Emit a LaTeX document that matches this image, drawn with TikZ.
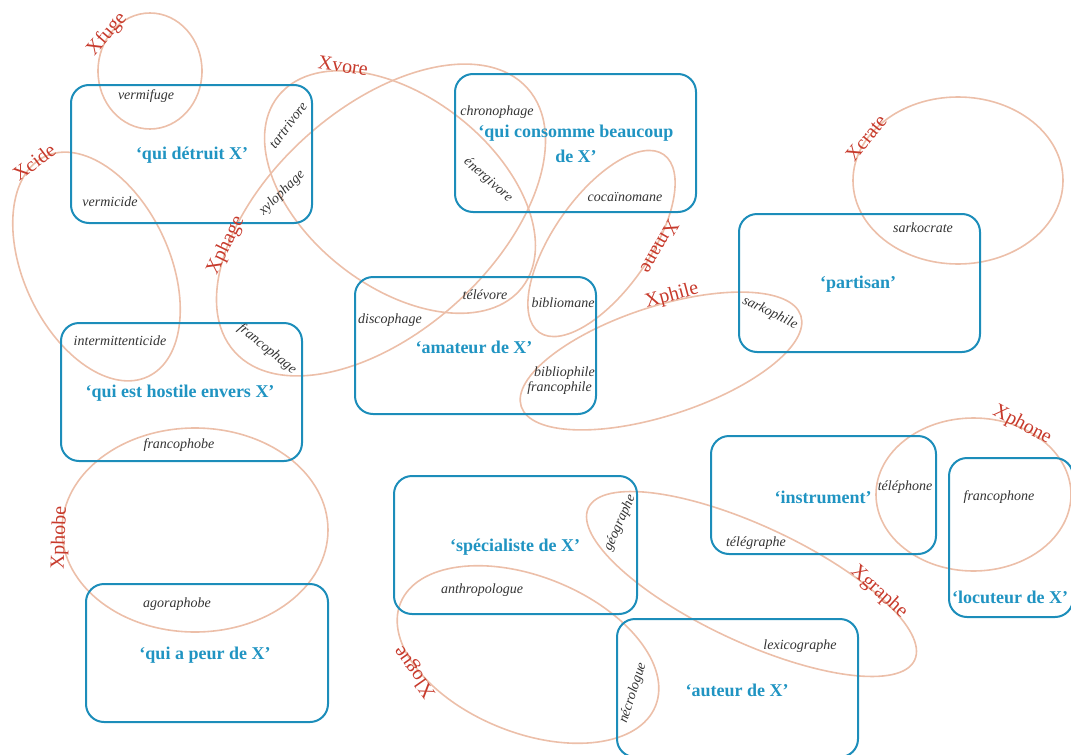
\documentclass[tikz,border=0pt]{standalone}
\usepackage{fontspec}
\setmainfont{Liberation Serif}
\definecolor{boxblue}{HTML}{1C8DBA}
\definecolor{textblue}{HTML}{2094C2}
\definecolor{ellcol}{HTML}{ECBFA9}
\definecolor{labred}{HTML}{C73A2C}
\definecolor{wordgray}{HTML}{333333}
\begin{document}
\begin{tikzpicture}[x=1pt,y=-1pt,
  box/.style={draw=boxblue, line width=2pt, rounded corners=18pt, inner sep=0pt, rectangle},
  ellline/.style={draw=ellcol, line width=1.6pt},
  sense/.style={text=textblue, font=\fontsize{18}{25}\selectfont\bfseries, align=center, inner sep=0pt},
  word/.style={text=wordgray, font=\fontsize{14}{15}\selectfont\itshape, inner sep=0pt},
  suffix/.style={text=labred, font=\fontsize{20}{22}\selectfont, inner sep=0pt}]
\useasboundingbox (0,0) rectangle (1071,755);

% ellipses (suffix sets)
\draw[ellline] (150,71) ellipse [x radius=52pt, y radius=58pt];
\draw[ellline, rotate around={-65:(96.5,266.5)}] (96.5,266.5) ellipse [x radius=121.5pt, y radius=73pt];
\draw[ellline, rotate around={-38:(400,192)}] (400,192) ellipse [x radius=155pt, y radius=95pt];
\draw[ellline, rotate around={42:(381,220)}] (381,220) ellipse [x radius=197pt, y radius=112pt];
\draw[ellline, rotate around={55:(601.5,243.5)}] (601.5,243.5) ellipse [x radius=108.5pt, y radius=48pt];
\draw[ellline, rotate around={18:(661,361)}] (661,361) ellipse [x radius=147pt, y radius=54.5pt];
\draw[ellline] (958,180.5) ellipse [x radius=105pt, y radius=83.5pt];
\draw[ellline] (195,530) ellipse [x radius=133pt, y radius=102pt];
\draw[ellline] (973.5,494.5) ellipse [x radius=97.5pt, y radius=76.5pt];
\draw[ellline, rotate around={-25:(751.5,584)}] (751.5,584) ellipse [x radius=180pt, y radius=58pt];
\draw[ellline, rotate around={-22:(528,654.5)}] (528,654.5) ellipse [x radius=137.5pt, y radius=78pt];

% boxes (senses)
\node[box, minimum width=241pt, minimum height=138pt] (detruit) at (191.5,154) {};
\node[box, minimum width=241pt, minimum height=138pt] (consomme) at (575.5,143) {};
\node[box, minimum width=241pt, minimum height=138pt] (partisan) at (859.5,283) {};
\node[box, minimum width=241pt, minimum height=137pt] (amateur) at (475.5,345.5) {};
\node[box, minimum width=241pt, minimum height=138pt] (hostile) at (181.5,392) {};
\node[box, minimum width=225pt, minimum height=118pt] (instrument) at (823.5,495) {};
\node[box, minimum width=124pt, minimum height=159pt] (locuteur) at (1011,537.5) {};
\node[box, minimum width=243pt, minimum height=138pt] (specialiste) at (515.5,545) {};
\node[box, minimum width=241pt, minimum height=138pt] (auteur) at (737.5,688) {};
\node[box, minimum width=242pt, minimum height=138pt] (peur) at (207,653) {};

% sense texts
\node[sense] (tdetruit) at (192,155) {‘qui détruit X’};
\node[sense] (tconsomme) at (576,144) {‘qui consomme beaucoup\\de X’};
\node[sense] (tpartisan) at (858,284) {‘partisan’};
\node[sense] (tamateur) at (474,347) {‘amateur de X’};
\node[sense] (thostile) at (180,393) {‘qui est hostile envers X’};
\node[sense] (tpeur) at (205,655) {‘qui a peur de X’};
\node[sense] (tspecialiste) at (515,547) {‘spécialiste de X’};
\node[sense] (tinstrument) at (823,497) {‘instrument’};
\node[sense] (tlocuteur) at (1010,597) {‘locuteur de X’};
\node[sense] (tauteur) at (737,690) {‘auteur de X’};

% suffix labels
\node[suffix, rotate=49] (lfuge) at (107,34) {Xfuge};
\node[suffix, rotate=37] (lcide) at (34,162) {Xcide};
\node[suffix, rotate=-8] (lvore) at (343,66) {Xvore};
\node[suffix, rotate=64] (lphage) at (226,245) {Xphage};
\node[suffix, rotate=-120] (lmane) at (660,247) {Xmane};
\node[suffix, rotate=15] (lphile) at (672,296) {Xphile};
\node[suffix, rotate=51] (lcrate) at (866,138) {Xcrate};
\node[suffix, rotate=88] (lphobe) at (60,538) {Xphobe};
\node[suffix, rotate=-28] (lphone) at (1022,425) {Xphone};
\node[suffix, rotate=-42] (lgraphe) at (879,592) {Xgraphe};
\node[suffix, rotate=125] (llogue) at (415,672) {Xlogue};

% words
\node[word] (wvermifuge) at (146,96) {vermifuge};
\node[word] (wvermicide) at (110,202) {vermicide};
\node[word, rotate=53] (wtartrivore) at (288,125) {tartrivore};
\node[word, rotate=44] (wxylophage) at (282,193) {xylophage};
\node[word] (wchronophage) at (497,112) {chronophage};
\node[word, rotate=-41] (wenergivore) at (488,180) {énergivore};
\node[word] (wcocainomane) at (625,197) {cocaïnomane};
\node[word] (wtelevore) at (485,295) {télévore};
\node[word] (wbibliomane) at (563,303) {bibliomane};
\node[word] (wdiscophage) at (390,320) {discophage};
\node[word, anchor=east] (wbibliophile) at (595,373) {bibliophile};
\node[word, anchor=east] (wfrancophile) at (592,388) {francophile};
\node[word] (wintermittenticide) at (120,341) {intermittenticide};
\node[word, rotate=-39] (wfrancophage) at (267,349) {francophage};
\node[word] (wfrancophobe) at (179,445) {francophobe};
\node[word] (wagoraphobe) at (177,604) {agoraphobe};
\node[word] (wsarkocrate) at (923,228) {sarkocrate};
\node[word, rotate=-26] (wsarkophile) at (770,313) {sarkophile};
\node[word] (wtelegraphe) at (756,543) {télégraphe};
\node[word] (wtelephone) at (905,487) {téléphone};
\node[word] (wfrancophone) at (999,497) {francophone};
\node[word] (wlexicographe) at (800,646) {lexicographe};
\node[word, rotate=72] (wnecrologue) at (633,693) {nécrologue};
\node[word, rotate=66] (wgeographe) at (620,523) {géographe};
\node[word] (wanthropologue) at (482,590) {anthropologue};
\end{tikzpicture}
\end{document}
